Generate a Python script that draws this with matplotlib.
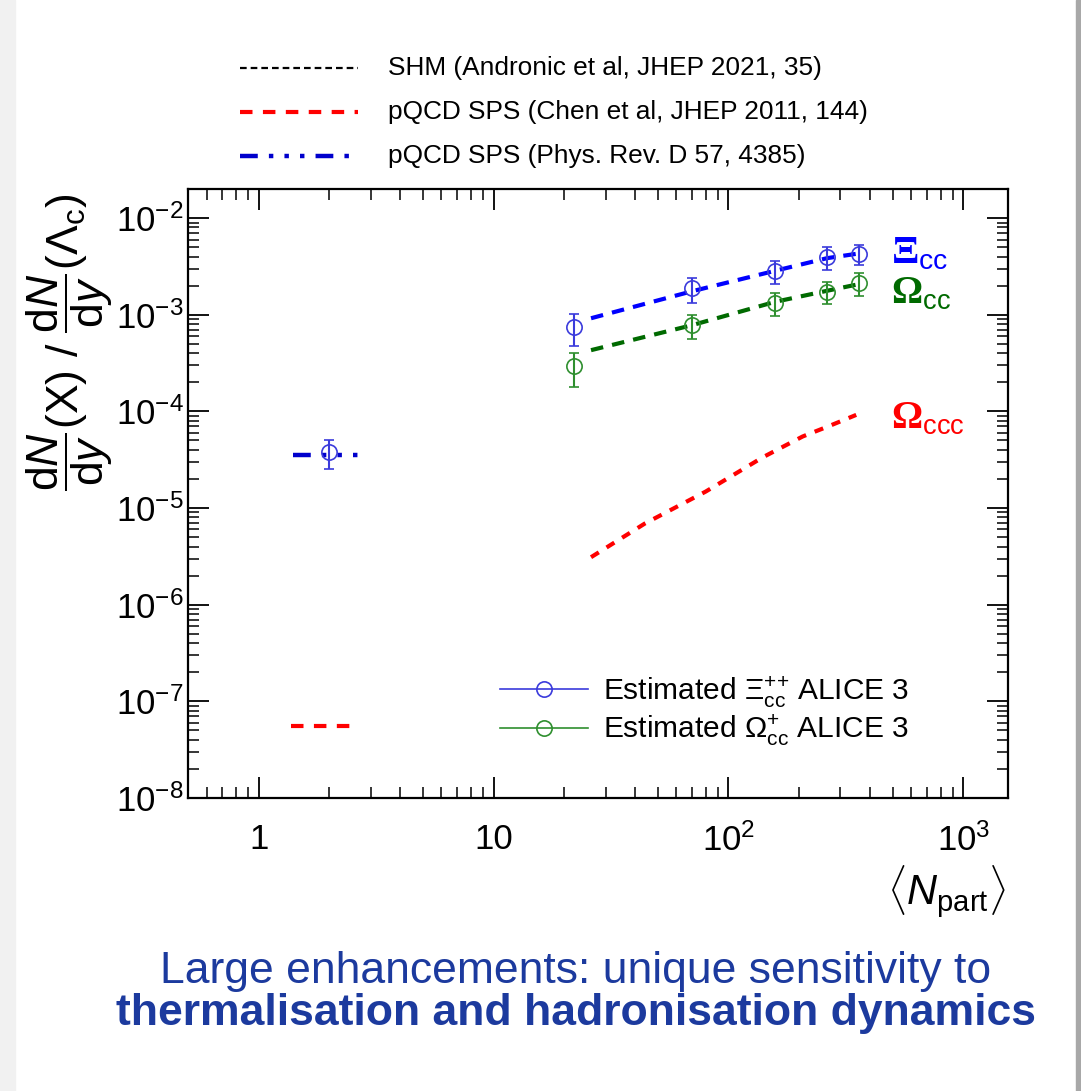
import matplotlib
matplotlib.use("Agg")
import matplotlib.pyplot as plt
from matplotlib.lines import Line2D
from matplotlib.patches import Rectangle
from matplotlib.ticker import LogLocator, FixedLocator, FixedFormatter, NullFormatter

plt.rcParams['font.family'] = ['Liberation Sans', 'DejaVu Sans']
plt.rcParams['mathtext.fontset'] = 'custom'
plt.rcParams['mathtext.rm'] = 'Liberation Sans'
plt.rcParams['mathtext.it'] = 'Liberation Sans:italic'
plt.rcParams['mathtext.bf'] = 'Liberation Serif:bold'
plt.rcParams['mathtext.sf'] = 'Liberation Sans'

# ---- data -------------------------------------------------------------
npart = [22, 70, 158, 263, 358]
xicc_ratio = [7.5e-4, 1.87e-3, 2.85e-3, 3.98e-3, 4.25e-3]
xicc_err = [2.8e-4, 5.5e-4, 7.5e-4, 1.05e-3, 0.98e-3]
omcc_ratio = [2.92e-4, 7.8e-4, 1.33e-3, 1.73e-3, 2.14e-3]
omcc_err = [1.14e-4, 2.2e-4, 3.5e-4, 4.4e-4, 5.8e-4]

# SHM predictions
npart_shm = [26, 70, 158, 263, 358]
xicc_shm = [9.2e-4, 1.75e-3, 2.85e-3, 3.85e-3, 4.3e-3]
omcc_shm = [4.3e-4, 7.8e-4, 1.36e-3, 1.77e-3, 2.07e-3]
npart_ccc = [26, 44, 80, 140, 207, 270, 350]
omccc_shm = [3.1e-6, 6.9e-6, 1.48e-5, 3.35e-5, 5.5e-5, 7.1e-5, 9.2e-5]

# pp reference point and pQCD single-parton-scattering predictions
pp_npart = [2.0]
pp_xicc = [3.8e-5]
pp_xicc_err = [1.25e-5]
pp_range_xicc = [1.4, 2.8]
pp_xicc_pqcd = [3.5e-5, 3.5e-5]
pp_range_omccc = [1.37, 2.65]
pp_omccc_pqcd = [5.6e-8, 5.6e-8]

x_ticks = [1, 10, 100, 1000]
x_ticklabels = ['1', '10', r'$10^{2}$', r'$10^{3}$']

# ---- figure ------------------------------------------------------------
W, H = 1081, 1091
fig = plt.figure(figsize=(W / 100, H / 100), dpi=100)


def fx(x):
    return x / W


def fy(y):
    return 1 - y / H


# slide frame
fig.patches.append(Rectangle((0, 0), fx(15), 1, transform=fig.transFigure,
                             color='#f1f1f1', zorder=0))
fig.patches.append(Rectangle((fx(1076), 0), fx(5), 1, transform=fig.transFigure,
                             color='#a8a8a8', zorder=0))

ax = fig.add_axes([fx(188), fy(798), fx(1008) - fx(188), fy(189) - fy(798)])
ax.set_xscale('log')
ax.set_yscale('log')
ax.set_xlim(0.5, 1550)
ax.set_ylim(1e-8, 2e-2)

blue_pts = '#3b3bdc'
green_pts = '#2f8f2f'
pqcd_blue_ls = (0, (4, 2.5, 1, 2.5, 1, 2.5, 1, 2.5))

# model curves
ax.plot(npart_shm, xicc_shm, color='#0000ff', lw=3, ls=(0, (3.0, 2.2)), zorder=2)
ax.plot(npart_shm, omcc_shm, color='#006a00', lw=3, ls=(0, (3.0, 2.2)), zorder=2)
ax.plot(npart_ccc, omccc_shm, color='#ff0000', lw=3, ls=(0, (2.2, 2.2)), zorder=2)
ax.plot(pp_range_xicc, pp_xicc_pqcd, color='#0000cc', lw=3.2, ls=pqcd_blue_ls, zorder=2)
ax.plot(pp_range_omccc, pp_omccc_pqcd, color='#ff0000', lw=3, ls=(0, (3, 2.5)), zorder=2)

# projected measurements
ekw = dict(fmt='o', ms=11, mfc='none', mew=1.2, elinewidth=1.5, capsize=3.5,
           capthick=1.5, zorder=3)
ax.errorbar(npart, xicc_ratio, yerr=xicc_err, color=blue_pts, mec=blue_pts, **ekw)
ax.errorbar(npart, omcc_ratio, yerr=omcc_err, color=green_pts, mec=green_pts, **ekw)
ax.errorbar(pp_npart, pp_xicc, yerr=pp_xicc_err, color=blue_pts, mec=blue_pts, **ekw)

# ticks
ax.xaxis.set_major_locator(FixedLocator(x_ticks))
ax.xaxis.set_major_formatter(FixedFormatter(x_ticklabels))
ax.xaxis.set_minor_locator(LogLocator(base=10, subs=range(2, 10), numticks=20))
ax.xaxis.set_minor_formatter(NullFormatter())
ax.yaxis.set_major_locator(LogLocator(base=10, numticks=20))
ax.yaxis.set_minor_locator(LogLocator(base=10, subs=range(2, 10), numticks=20))
ax.yaxis.set_minor_formatter(NullFormatter())
ax.tick_params(which='both', direction='in', top=True, right=True, color='black')
ax.tick_params(which='major', length=15, width=1.3, labelsize=25)
ax.tick_params(axis='x', which='major', pad=18)
ax.tick_params(axis='y', which='major', pad=3)
ax.tick_params(which='minor', length=8, width=1.1)
for s in ax.spines.values():
    s.set_linewidth(1.6)

# axis titles
fig.text(fx(70), fy(342),
         r'$\dfrac{\mathrm{d}N}{\mathrm{d}y}\mathrm{(X)\ /\ }\dfrac{\mathrm{d}N}{\mathrm{d}y}(\Lambda_{\mathrm{c}})$',
         rotation=90, ha='center', va='center', fontsize=32)
fig.text(fx(1006), fy(892), r'$\langle N_{\mathrm{part}}\rangle$',
         ha='right', va='center', fontsize=30)

# species labels
fig.text(fx(891), fy(263), r'$\mathbf{\Xi}_{\mathrm{cc}}$', color='#0000ff',
         fontsize=29, ha='left', va='baseline')
fig.text(fx(891), fy(304), r'$\mathbf{\Omega}_{\mathrm{cc}}$', color='#006a00',
         fontsize=28, ha='left', va='baseline')
fig.text(fx(891), fy(429), r'$\mathbf{\Omega}_{\mathrm{ccc}}$', color='#ff0000',
         fontsize=28, ha='left', va='baseline')

# model legend above the frame
model_rows = [
    ('SHM (Andronic et al, JHEP 2021, 35)', 'black', 1.6, (0, (3, 1.8)), 68),
    ('pQCD SPS (Chen et al, JHEP 2011, 144)', '#ff0000', 3, (0, (3, 2.5)), 112),
    ('pQCD SPS (Phys. Rev. D 57, 4385)', '#0000cc', 3.2, pqcd_blue_ls, 156),
]
for label, col, lw, ls, ypix in model_rows:
    fig.add_artist(Line2D([fx(240), fx(358)], [fy(ypix), fy(ypix)],
                          transform=fig.transFigure, color=col, lw=lw, ls=ls))
    fig.text(fx(388), fy(ypix), label, fontsize=18.9, ha='left', va='center')

# measurement legend
handles = [
    Line2D([], [], color=blue_pts, lw=1.2, marker='o', ms=11, mfc='none', mew=1.2),
    Line2D([], [], color=green_pts, lw=1.2, marker='o', ms=11, mfc='none', mew=1.2),
]
labels = [r'Estimated $\Xi_{\mathrm{cc}}^{{+}{+}}$ ALICE 3',
          r'Estimated $\Omega_{\mathrm{cc}}^{+}$ ALICE 3']
ax.legend(handles, labels, loc='upper left', bbox_to_anchor=(fx(500), fy(674)),
          bbox_transform=fig.transFigure, frameon=False, fontsize=21.5,
          handlelength=2.95, handletextpad=0.5, labelspacing=0.08,
          borderpad=0, borderaxespad=0)

# slide caption
cap_col = '#1c3a9e'
fig.text(fx(576), fy(972), 'Large enhancements: unique sensitivity to',
         fontsize=32, color=cap_col, ha='center', va='center')
fig.text(fx(576), fy(1014), 'thermalisation and hadronisation dynamics',
         fontsize=32, color=cap_col, ha='center', va='center', fontweight='bold')

fig.savefig('out.png', dpi=100)
